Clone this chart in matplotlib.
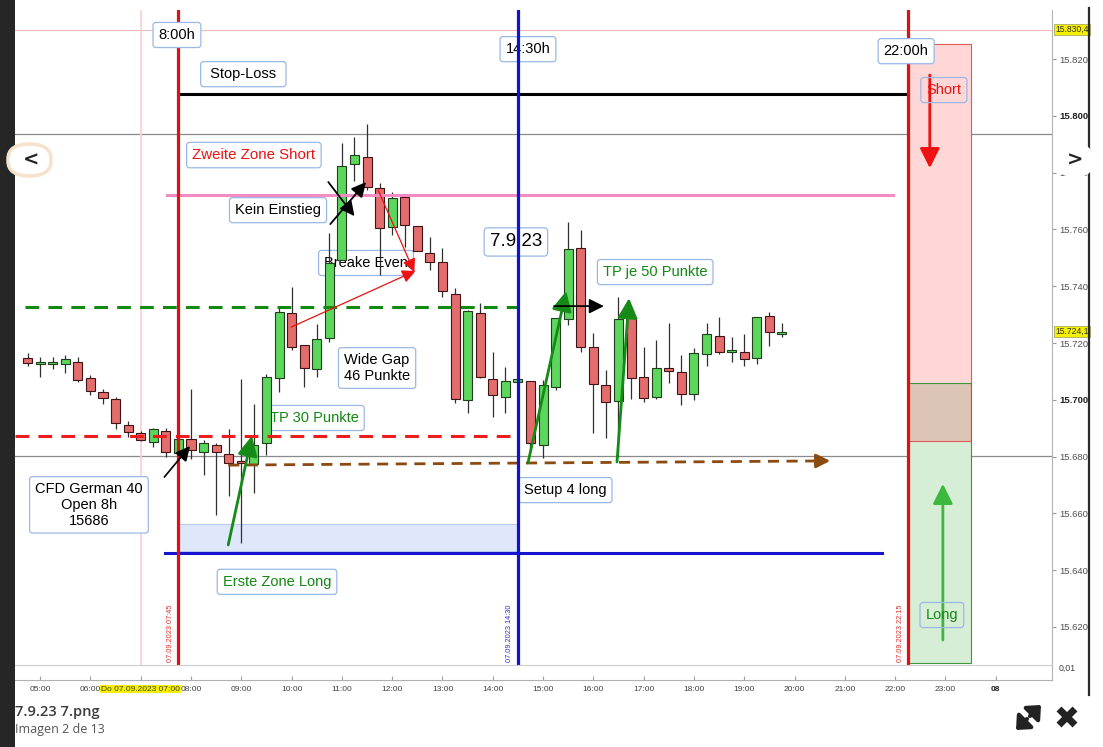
import numpy as np
import matplotlib
matplotlib.use('Agg')
import matplotlib.pyplot as plt
import matplotlib.transforms as mtrans
from matplotlib.patches import Rectangle, FancyBboxPatch, FancyArrowPatch
from matplotlib.lines import Line2D

plt.rcParams['font.family'] = ['Liberation Sans', 'DejaVu Sans']

# 15-Minuten-Kerzen CFD German 40, 07.09.2023, erste Kerze 04:45
start_hour = 4.75
step = 0.25
opens = [15714.7, 15712.6, 15712.6, 15712.6, 15713.3, 15707.7, 15702.8, 15700.3, 15691.1, 15688.3,
         15685.1, 15689.0, 15681.3, 15686.2, 15681.6, 15684.1, 15680.9, 15678.1, 15677.4, 15684.8,
         15707.7, 15730.6, 15719.3, 15710.8, 15721.8, 15749.2, 15783.0, 15785.5, 15774.6, 15760.8,
         15771.4, 15761.2, 15751.7, 15748.5, 15737.3, 15699.9, 15730.6, 15707.3, 15701.0, 15706.3,
         15706.6, 15684.1, 15704.5, 15728.5, 15753.5, 15718.6, 15705.2, 15699.6, 15729.2, 15708.0,
         15701.0, 15711.2, 15709.8, 15702.0, 15716.1, 15722.5, 15716.8, 15716.8, 15714.7, 15729.5,
         15723.2]
highs = [15716.5, 15715.1, 15715.1, 15715.8, 15715.1, 15708.7, 15703.8, 15701.0, 15692.5, 15689.0,
         15690.1, 15690.1, 15686.6, 15703.8, 15685.8, 15684.8, 15689.7, 15707.3, 15698.5, 15709.1,
         15732.7, 15739.7, 15719.3, 15726.7, 15758.7, 15790.4, 15792.5, 15797.1, 15776.3, 15773.2,
         15772.1, 15761.2, 15757.3, 15753.5, 15739.4, 15731.6, 15734.1, 15716.8, 15711.6, 15707.3,
         15706.6, 15707.0, 15728.8, 15762.6, 15759.8, 15723.5, 15710.5, 15736.2, 15729.2, 15718.6,
         15721.1, 15727.0, 15715.8, 15718.2, 15727.0, 15729.2, 15722.1, 15723.2, 15729.2, 15730.9,
         15727.0]
lows = [15711.9, 15708.0, 15710.8, 15709.4, 15706.3, 15701.7, 15698.5, 15689.7, 15686.9, 15685.5,
        15683.4, 15679.9, 15680.9, 15679.2, 15673.5, 15659.4, 15666.1, 15649.6, 15667.2, 15680.6,
        15702.8, 15717.5, 15704.5, 15708.0, 15720.4, 15749.2, 15777.0, 15773.9, 15743.9, 15758.0,
        15753.8, 15752.4, 15745.7, 15736.2, 15698.9, 15695.4, 15707.7, 15694.0, 15695.4, 15706.3,
        15683.0, 15679.5, 15703.5, 15726.3, 15716.8, 15688.3, 15686.6, 15679.9, 15700.3, 15699.2,
        15700.3, 15705.9, 15698.2, 15699.9, 15711.9, 15716.1, 15713.3, 15711.9, 15712.6, 15718.9,
        15722.1]
closes = [15713.0, 15713.0, 15713.0, 15714.4, 15707.0, 15703.1, 15700.6, 15691.8, 15688.7, 15685.8,
          15689.7, 15681.6, 15686.2, 15682.3, 15684.8, 15681.6, 15677.8, 15677.8, 15684.1, 15708.0,
          15730.9, 15718.6, 15711.2, 15721.4, 15748.2, 15782.3, 15786.2, 15774.9, 15760.5, 15771.1,
          15761.6, 15752.4, 15748.5, 15738.3, 15700.3, 15731.3, 15708.0, 15701.7, 15706.6, 15707.3,
          15684.8, 15705.2, 15728.8, 15753.1, 15718.6, 15705.6, 15699.2, 15728.5, 15707.7, 15700.6,
          15711.2, 15710.1, 15702.0, 15716.5, 15723.2, 15716.8, 15716.8, 15714.4, 15729.2, 15723.9,
          15723.9]

y_ticks = [15620, 15640, 15660, 15680, 15700, 15720, 15740, 15760, 15780, 15800, 15820]
x_ticks = list(range(5, 25))
x_labels = ['05:00', '06:00', 'Do 07.09.2023 07:00', '08:00', '09:00', '10:00', '11:00', '12:00',
            '13:00', '14:00', '15:00', '16:00', '17:00', '18:00', '19:00', '20:00', '21:00', '22:00',
            '23:00', '08']

# Niveaus / Zeiten der Einzeichnungen
high_mark = 15830.4
last_price = 15724.1
grey_levels = [15793.6, 15680.2]
stop_loss = 15807.7
short_zone = 15772.1
tp_level = 15732.7
open_level = 15687.3
setup_start, setup_end = 15677.0, 15678.5
long_zone = 15646.1
long_box = (15646.8, 15656.3)
t_open, t_us, t_close = 7.75, 14.5, 22.25
t_box_end = 23.5
short_rect = (15685.5, 15825.3)
long_rect = (15607.3, 15705.9)

W, H = 1103, 747
fig = plt.figure(figsize=(W / 100, H / 100), dpi=100)
fig.patch.set_facecolor('white')

ax = fig.add_axes([15 / W, 82 / H, 1037 / W, 655 / H])
ax.set_xlim(4.5, 25.12)
ax.set_ylim(15606.6, 15837.3)
for s in ['top', 'left', 'bottom']:
    ax.spines[s].set_visible(False)
ax.spines['right'].set_color('#b4b4b4')
ax.set_xticks([])
ax.yaxis.tick_right()
ax.set_yticks(y_ticks)
ax.set_yticklabels(['%.3f' % (v / 1000) for v in y_ticks])
ax.tick_params(axis='y', length=3, width=0.8, colors='#9a9a9a', labelsize=6.8, labelcolor='#505050', pad=2)
for lab in ax.get_yticklabels():
    if lab.get_text() in ('15.800', '15.700'):
        lab.set_fontweight('bold')
        lab.set_color('#202020')

ytr = mtrans.blended_transform_factory(ax.transAxes, ax.transData)
for val, txt in [(high_mark, '15.830,4'), (last_price, '15.724,1')]:
    ax.text(1.003, val, txt, transform=ytr, fontsize=6.2, color='#303030', va='center', ha='left',
            bbox=dict(boxstyle='square,pad=0.15', fc='#f5f000', ec='#9a9a60', lw=0.5), clip_on=False)

# Hintergrundlinien
ax.axhline(high_mark, color='#f4b8b8', lw=0.8, zorder=1)
for g in grey_levels:
    ax.axhline(g, color='#8a8a8a', lw=0.9, zorder=1)
ax.axvline(7.0, color='#f6d4d4', lw=1.3, zorder=1)

# Zonen rechts
ax.add_patch(Rectangle((t_close, long_rect[1]), t_box_end - t_close, short_rect[1] - long_rect[1],
                       fc='#ffd7d7', ec='none', zorder=1))
ax.add_patch(Rectangle((t_close, short_rect[0]), t_box_end - t_close, long_rect[1] - short_rect[0],
                       fc='#dcc5b6', ec='none', zorder=1))
ax.add_patch(Rectangle((t_close, long_rect[0]), t_box_end - t_close, short_rect[0] - long_rect[0],
                       fc='#d6edd6', ec='none', zorder=1))
ax.add_patch(Rectangle((t_close, short_rect[0]), t_box_end - t_close, short_rect[1] - short_rect[0],
                       fc='none', ec='#e05a5a', lw=0.8, zorder=2))
ax.add_patch(Rectangle((t_close, long_rect[0]), t_box_end - t_close, long_rect[1] - long_rect[0],
                       fc='none', ec='#3a9a3a', lw=0.8, zorder=2))

ax.add_patch(Rectangle((t_open, long_box[0]), t_us - t_open, long_box[1] - long_box[0],
                       fc='#dfe8fb', ec='#b8cbef', lw=0.8, zorder=1))

# Kerzen
t = start_hour + step * np.arange(len(opens))
o = np.array(opens)
c = np.array(closes)
up = c >= o
bottom = np.minimum(o, c)
height = np.maximum(np.abs(c - o), 0.6)
ax.vlines(t, lows, highs, color='#303030', lw=0.9, zorder=4)
ax.bar(t[up], height[up], bottom=bottom[up], width=0.18, color='#5cd65c', edgecolor='#1f3f1f', lw=0.8, zorder=5)
ax.bar(t[~up], height[~up], bottom=bottom[~up], width=0.18, color='#e36c6c', edgecolor='#401414', lw=0.8, zorder=5)

# Horizontale Einzeichnungen
ax.plot([t_open, t_close], [stop_loss, stop_loss], color='black', lw=2.2, zorder=6)
ax.plot([7.52, 21.96], [short_zone, short_zone], color='#f48cc4', lw=2.2, zorder=6)
ax.plot([4.7, t_us], [tp_level, tp_level], color='#128a12', lw=2.2, dashes=(4.5, 3), zorder=6)
ax.plot([4.5, t_us], [open_level, open_level], color='#ee1c1c', lw=2.2, dashes=(4.5, 3), zorder=6)
ax.plot([7.49, 21.74], [long_zone, long_zone], color='#1515d0', lw=2.2, zorder=6)
ax.plot([8.74, 20.5], [setup_start, setup_end - 0.03], color='#8b4a10', lw=2.0, dashes=(4, 2.7), zorder=6)
ax.annotate('', xy=(20.71, setup_end), xytext=(20.45, setup_end - 0.03),
            arrowprops=dict(arrowstyle='-|>,head_length=0.6,head_width=0.3', color='#8b4a10', lw=2,
                            mutation_scale=14, shrinkA=0, shrinkB=0), zorder=7)

# Vertikale Linien
ax.axvline(t_open, color='#e01010', lw=2.3, zorder=6)
ax.axvline(t_us, color='#1010d8', lw=2.3, zorder=9)
ax.axvline(t_close, color='#e01010', lw=2.3, zorder=6)
for tt, txt, col in [(7.60, '07.09.2023 07:45', '#e03030'), (14.34, '07.09.2023 14:30', '#3030d0'),
                     (22.10, '07.09.2023 22:15', '#e03030')]:
    ax.text(tt, 15607.8, txt, rotation=90, fontsize=5.3, color=col, ha='center', va='bottom', zorder=6)


def label(tt, p, s, color='black', size=10.5, z=8, pad=0.38, fc='white'):
    ax.text(tt, p, s, color=color, fontsize=size, ha='center', va='center', zorder=z, linespacing=1.15,
            bbox=dict(boxstyle='round,pad=%s,rounding_size=0.2' % pad, fc=fc, ec='#9ab8e6', lw=0.9))


label(7.72, 15828.5, '8:00h')
label(14.70, 15823.5, '14:30h')
label(22.22, 15822.8, '22:00h')
label(9.04, 15814.7, ' Stop-Loss ')
label(9.25, 15786.2, 'Zweite Zone Short', color='#ee1111', size=10.8)
label(9.73, 15766.8, 'Kein Einstieg')
label(11.48, 15748.2, 'Breake Even', z=3)
label(14.46, 15755.6, '7.9.23', size=13.5, pad=0.3)
label(17.23, 15745.0, 'TP je 50 Punkte', color='#118811')
label(11.70, 15711.2, 'Wide Gap\n46 Punkte')
label(10.45, 15693.6, 'TP 30 Punkte', color='#118811', z=3)
label(5.97, 15663.0, 'CFD German 40\nOpen 8h\n15686')
label(15.44, 15668.2, 'Setup 4 long')
label(9.71, 15635.9, 'Erste Zone Long', color='#118811')
label(22.97, 15809.1, 'Short', color='#ee1111', fc='none')
label(22.93, 15624.2, 'Long', color='#118811', fc='none')


def arrow(a, b, color, lw, ms, z=7, head='-|>,head_length=0.8,head_width=0.4'):
    ax.annotate('', xy=b, xytext=a, zorder=z,
                arrowprops=dict(arrowstyle=head, color=color, lw=lw, mutation_scale=ms, shrinkA=0, shrinkB=0))


arrow((22.69, 15814.4), (22.69, 15781.6), '#ee1111', 2.0, 15)
arrow((22.95, 15615.4), (22.95, 15670.4), '#3cb83c', 2.0, 15)
arrow((8.74, 15648.9), (9.21, 15687.3), '#168a16', 2.0, 15)
arrow((14.70, 15677.8), (15.46, 15738.3), '#168a16', 2.0, 15)
arrow((16.47, 15678.1), (16.71, 15735.8), '#168a16', 2.0, 15)
arrow((15.22, 15733.0), (16.21, 15733.0), 'black', 1.3, 11)
arrow((7.47, 15672.8), (7.98, 15683.7), 'black', 1.2, 11)
arrow((10.73, 15776.7), (11.25, 15764.7), 'black', 1.3, 11)
arrow((10.77, 15761.9), (11.48, 15776.7), 'black', 1.3, 11)
arrow((9.99, 15725.6), (12.46, 15745.4), '#ee1111', 0.9, 10)
arrow((11.72, 15773.9), (12.44, 15745.0), '#ee1111', 0.9, 10)

# Indikator-Streifen mit Zeitachse
ax2 = fig.add_axes([15 / W, 67 / H, 1037 / W, 15 / H])
ax2.set_xlim(4.5, 25.12)
ax2.set_yticks([])
ax2.spines['left'].set_visible(False)
ax2.spines['top'].set_color('#cccccc')
ax2.spines['right'].set_color('#b4b4b4')
ax2.spines['bottom'].set_color('#b0b0b0')
ax2.set_xticks(x_ticks)
ax2.set_xticklabels(x_labels)
ax2.tick_params(axis='x', direction='in', length=3, colors='#a0a0a0', labelsize=6.0, labelcolor='#404040', pad=4)
for lab in ax2.get_xticklabels():
    if lab.get_text().startswith('Do'):
        lab.set_bbox(dict(boxstyle='square,pad=0.1', fc='#f5f000', ec='none'))
    if lab.get_text() == '08':
        lab.set_fontweight('bold')
        lab.set_color('#202020')
ax2.text(1.006, 0.75, '0,01', transform=ax2.transAxes, fontsize=6.3, color='#404040', va='center')

# Rahmen der Bildergalerie
fig.patches.append(Rectangle((0, 0), 15 / W, 1, transform=fig.transFigure, fc='#262626', ec='none', zorder=0))
fig.lines.append(Line2D([1089 / W, 1089 / W], [1 - 8 / H, 1 - 695 / H], transform=fig.transFigure,
                        color='#2a2a2a', lw=1.6))
fig.patches.append(FancyBboxPatch((8 / W, 571 / H), 43 / W, 32 / H, transform=fig.transFigure,
                                  boxstyle='round,pad=0,rounding_size=0.02', fc='white', ec='#f5e2cc', lw=2.5, zorder=10))
fig.text(31 / W, 1 - 160 / H, '<', fontsize=14, fontweight='bold', color='#222222', ha='center', va='center',
         family='DejaVu Sans', zorder=11)
fig.patches.append(FancyBboxPatch((1058 / W, 570 / H), 34 / W, 33 / H, transform=fig.transFigure,
                                  boxstyle='round,pad=0,rounding_size=0.015', fc='white', ec='none', zorder=10))
fig.text(1075 / W, 1 - 160 / H, '>', fontsize=14, fontweight='bold', color='#222222', ha='center', va='center',
         family='DejaVu Sans', zorder=11)

fig.text(15 / W, 1 - 712 / H, '7.9.23 7.png', fontsize=10.5, fontweight='semibold', color='#3a3a3a',
         va='center', family='Open Sans')
fig.text(15 / W, 1 - 730 / H, 'Imagen 2 de 13', fontsize=9, color='#555555', va='center', family='Open Sans')

# Icons: Vergroessern und Schliessen
for a, b in [((1030, 716), (1041, 705)), ((1027, 719), (1016, 730))]:
    fig.patches.append(FancyArrowPatch((a[0] / W, 1 - a[1] / H), (b[0] / W, 1 - b[1] / H),
                                       transform=fig.transFigure, arrowstyle='-|>,head_length=0.5,head_width=0.45',
                                       mutation_scale=14, lw=3, color='#222222', shrinkA=0, shrinkB=0))
for a, b in [((1059, 709), (1075, 725)), ((1059, 725), (1075, 709))]:
    fig.lines.append(Line2D([a[0] / W, b[0] / W], [1 - a[1] / H, 1 - b[1] / H], transform=fig.transFigure,
                            color='#222222', lw=5, solid_capstyle='butt'))

plt.savefig('out.png', dpi=100)
